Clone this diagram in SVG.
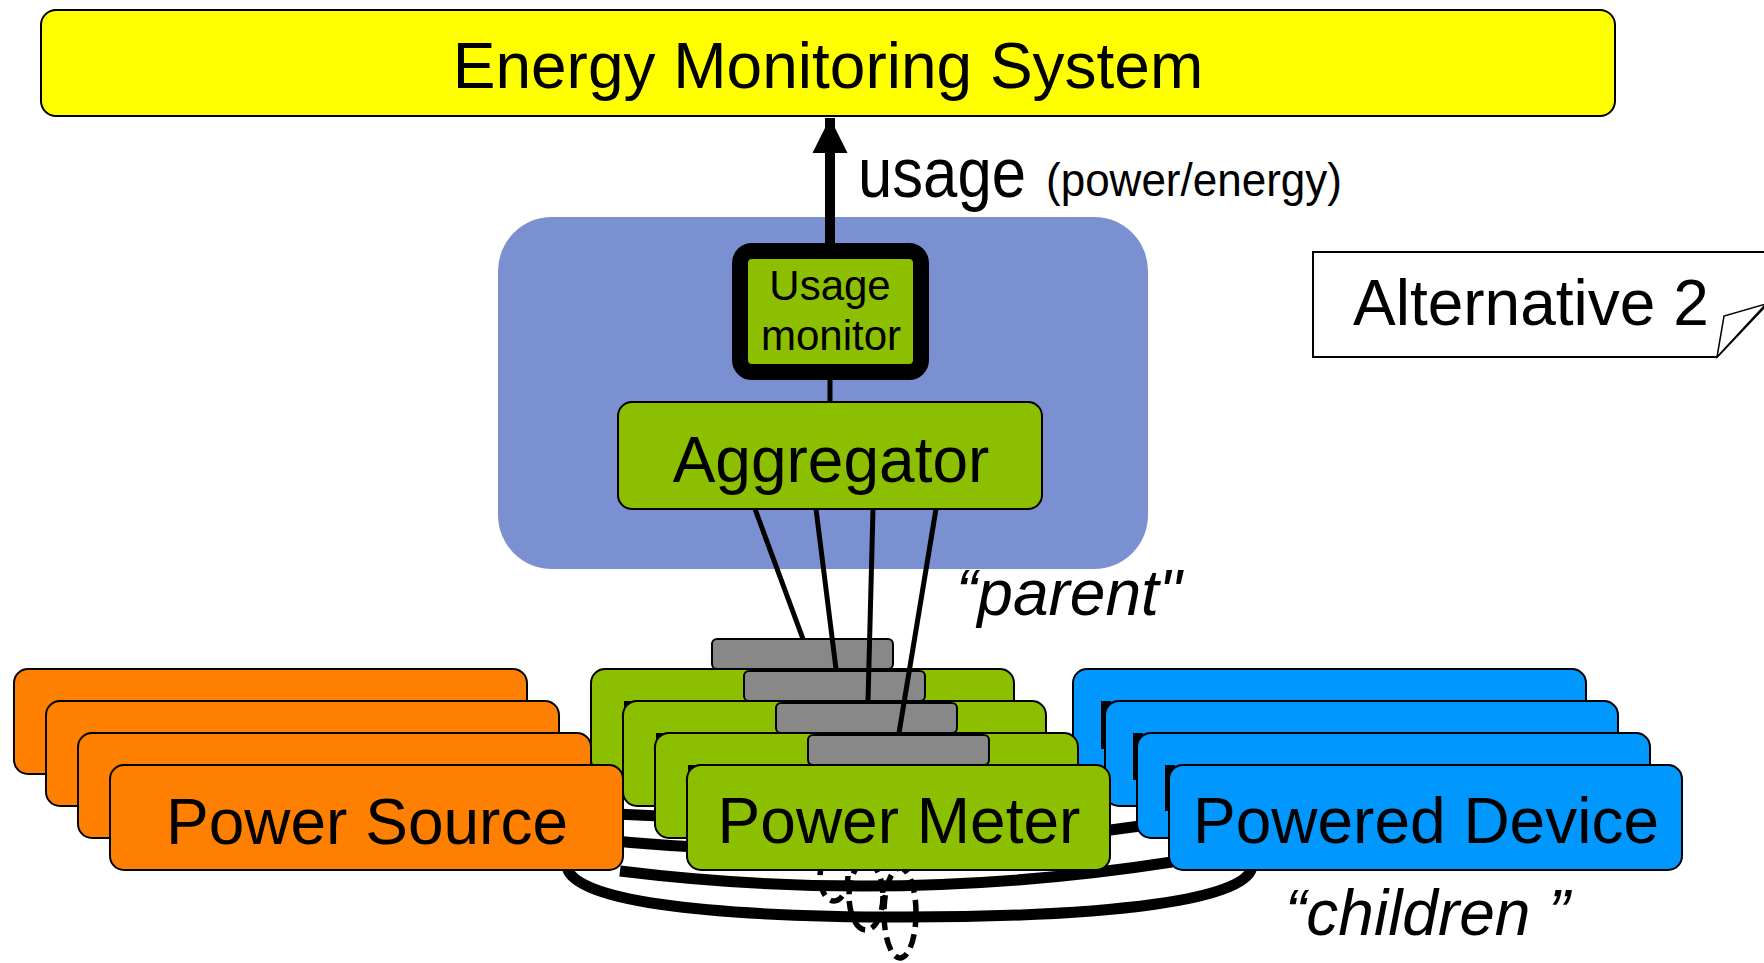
<svg xmlns="http://www.w3.org/2000/svg" width="1764" height="963" viewBox="0 0 1764 963">
  <style>
    text { font-family: "Liberation Sans", Arial, sans-serif; fill: #000; }
    .box { stroke: #000; stroke-width: 2; }
    .ems { fill: #ffff00; }
    .src { fill: #ff7f00; }
    .mtr { fill: #8cbf00; }
    .dev { fill: #0097ff; }
    .tab { fill: #888888; stroke: #000; stroke-width: 2; }
    .mark { fill: #000; }
    .cable { fill: none; stroke: #000; stroke-width: 11; }
    .loop { fill: none; stroke: #000; stroke-width: 5.5; stroke-dasharray: 14 7; }
    .wire { stroke: #000; stroke-width: 5; fill: none; }
    .lbl { font-size: 64px; text-anchor: middle; }
    .quote { font-size: 64px; font-style: italic; }
  </style>
  <defs>
    <marker id="head" viewBox="0 0 10 10" refX="10" refY="5" markerWidth="3.5" markerHeight="3.6" orient="auto" markerUnits="strokeWidth">
      <path d="M0 0 L10 5 L0 10 Z" fill="#000"/>
    </marker>
  </defs>

  <rect width="1764" height="963" fill="#fff"/>

  <!-- top system -->
  <g id="energy-monitoring-system">
    <rect class="box ems" x="41" y="10" width="1574" height="106" rx="15"/>
    <text class="lbl" x="828" y="88">Energy Monitoring System</text>
  </g>

  <!-- parent container -->
  <g id="parent-domain">
    <rect x="498" y="217" width="650" height="352" rx="54" fill="#7b90d0"/>
  </g>

  <!-- note -->
  <g id="alternative-note">
    <path d="M1313 252 H1790 V280 L1717 357 H1313 Z" fill="#fff" stroke="#000" stroke-width="2"/>
    <path d="M1717 357 L1724 316 L1766 304 Z" fill="#fff" stroke="#000" stroke-width="1.5"/>
    <text x="1353" y="325" font-size="64">Alternative 2</text>
  </g>

  <!-- cables and clamps, behind the device stacks -->
  <g id="connectors-lower">
    <path class="cable" d="M585 812 Q850 830 1110 800"/>
    <path class="cable" d="M585 838 Q860 868 1140 826"/>
    <path class="cable" d="M620 871 Q895 905 1172 862"/>
    <path class="cable" d="M567 866 C570 900 700 917 905 917 C1110 917 1250 900 1252 866"/>
    <ellipse class="loop" cx="834" cy="876" rx="14" ry="25"/>
    <ellipse class="loop" cx="866" cy="896" rx="17" ry="34"/>
    <ellipse class="loop" cx="900" cy="913" rx="16" ry="45"/>
  </g>

  <!-- stacks, back to front -->
  <g id="level-1">
    <rect class="box src" x="14" y="669" width="513" height="105" rx="14"/>
    <rect class="tab" x="712" y="639" width="181" height="30" rx="5"/>
    <rect class="box mtr" x="591" y="669" width="423" height="105" rx="14"/>
    <rect class="box dev" x="1073" y="669" width="513" height="105" rx="14"/>
  </g>
  <g id="level-2">
    <rect class="box src" x="46" y="701" width="513" height="105" rx="14"/>
    <rect class="tab" x="744" y="671" width="181" height="30" rx="5"/>
    <rect class="mark" x="624" y="701" width="9" height="9"/>
    <rect class="box mtr" x="623" y="701" width="423" height="105" rx="14"/>
    <rect class="mark" x="1101" y="701" width="10" height="48"/>
    <rect class="box dev" x="1105" y="701" width="513" height="105" rx="14"/>
  </g>
  <g id="level-3">
    <rect class="box src" x="78" y="733" width="513" height="105" rx="14"/>
    <rect class="tab" x="776" y="703" width="181" height="30" rx="5"/>
    <rect class="mark" x="656" y="733" width="9" height="9"/>
    <rect class="box mtr" x="655" y="733" width="423" height="105" rx="14"/>
    <rect class="mark" x="1133" y="733" width="10" height="47"/>
    <rect class="box dev" x="1137" y="733" width="513" height="105" rx="14"/>
  </g>
  <g id="power-source">
    <rect class="box src" x="110" y="765" width="513" height="105" rx="14"/>
    <text class="lbl" x="367" y="844">Power Source</text>
  </g>
  <g id="power-meter">
    <rect class="tab" x="808" y="735" width="181" height="30" rx="5"/>
    <rect class="mark" x="688" y="765" width="9" height="9"/>
    <rect class="box mtr" x="687" y="765" width="423" height="105" rx="14"/>
    <text class="lbl" x="899" y="843">Power Meter</text>
  </g>
  <g id="powered-device">
    <rect class="mark" x="1165" y="765" width="10" height="46"/>
    <rect class="box dev" x="1169" y="765" width="513" height="105" rx="14"/>
    <text class="lbl" x="1426" y="843">Powered Device</text>
  </g>

  <!-- aggregation path -->
  <g id="connectors">
    <line class="wire" x1="830" y1="372" x2="830" y2="402"/>
    <line class="wire" x1="755" y1="509" x2="803" y2="639"/>
    <line class="wire" x1="816" y1="509" x2="836" y2="669"/>
    <line class="wire" x1="873" y1="509" x2="868" y2="701"/>
    <line class="wire" x1="936" y1="509" x2="899" y2="733"/>
    <line x1="830" y1="243" x2="830" y2="118" stroke="#000" stroke-width="10" marker-end="url(#head)"/>
  </g>

  <g id="usage-monitor">
    <rect x="740" y="251" width="181" height="121" rx="12" fill="#8cbf00" stroke="#000" stroke-width="16"/>
    <text x="830" y="300" font-size="42" text-anchor="middle">Usage</text>
    <text x="831" y="350" font-size="42" text-anchor="middle">monitor</text>
  </g>

  <g id="aggregator">
    <rect class="box mtr" x="618" y="402" width="424" height="107" rx="14"/>
    <text class="lbl" x="831" y="482">Aggregator</text>
  </g>

  <!-- labels -->
  <g id="labels">
    <text x="858" y="197" font-size="70" textLength="168" lengthAdjust="spacingAndGlyphs">usage</text>
    <text x="1046" y="196" font-size="47" textLength="296" lengthAdjust="spacingAndGlyphs">(power/energy)</text>
    <text class="quote" x="956" y="615" font-size="63">“parent"</text>
    <text class="quote" x="1285" y="935">“children ”</text>
  </g>
</svg>
